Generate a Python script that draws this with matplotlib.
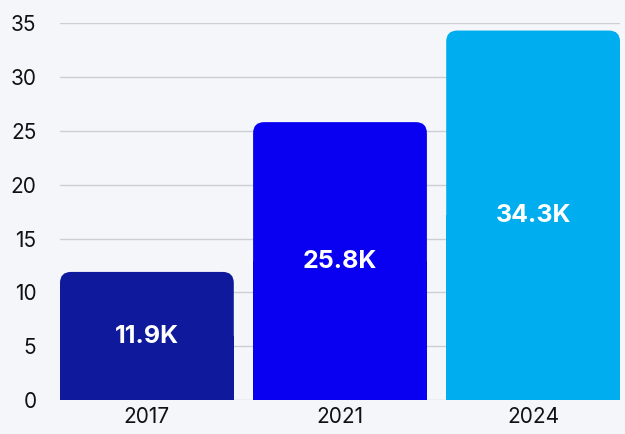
import matplotlib.pyplot as plt
from matplotlib.patches import FancyBboxPatch, Rectangle

years = ["2017", "2021", "2024"]
values = [11.9, 25.8, 34.3]
labels = ["11.9K", "25.8K", "34.3K"]
colors = ["#0e1a9b", "#0900f2", "#00adee"]
yticks = [0, 5, 10, 15, 20, 25, 30, 35]

plt.rcParams['font.family'] = ['Inter', 'DejaVu Sans']

bg = "#f5f6fa"
fig = plt.figure(figsize=(6.25, 4.34), dpi=100, facecolor=bg)
ax = fig.add_axes([0.096, 0.078, 0.896, 0.869], facecolor=bg)

xs = list(range(len(years)))
bars = ax.bar(xs, values, width=0.9, color="none")
ax.set_xlim(-0.45, 2.45)
ax.set_ylim(0, 35)

# pixel scale so the rounded corners stay circular
bbox = ax.get_window_extent()
px_x = bbox.width / 2.9
px_y = bbox.height / 35
r_px = 11
rx = r_px / px_x

for b, c, lab in zip(bars, colors, labels):
    x0, w, h = b.get_x(), b.get_width(), b.get_height()
    ax.add_patch(FancyBboxPatch((x0, 0), w, h,
                                boxstyle=f"round,pad=0,rounding_size={rx}",
                                mutation_aspect=px_x / px_y,
                                fc=c, ec="none", zorder=3))
    # square off the bottom corners
    ax.add_patch(Rectangle((x0, 0), w, h / 2, fc=c, ec="none", zorder=3))
    ax.text(x0 + w / 2, h / 2, lab, ha="center", va="center", color="white",
            fontsize=18, fontweight="bold", zorder=4)

ax.set_yticks(yticks)
ax.set_xticks(xs)
ax.set_xticklabels(years)
ax.tick_params(axis="both", length=0, labelsize=15, colors="#111111")
ax.tick_params(axis="y", pad=17)
ax.tick_params(axis="x", pad=5)
ax.grid(axis="y", color="#cdced4", linewidth=1, zorder=0)
ax.set_axisbelow(True)
for s in ax.spines.values():
    s.set_visible(False)

fig.savefig("out.png", dpi=100, facecolor=bg)
